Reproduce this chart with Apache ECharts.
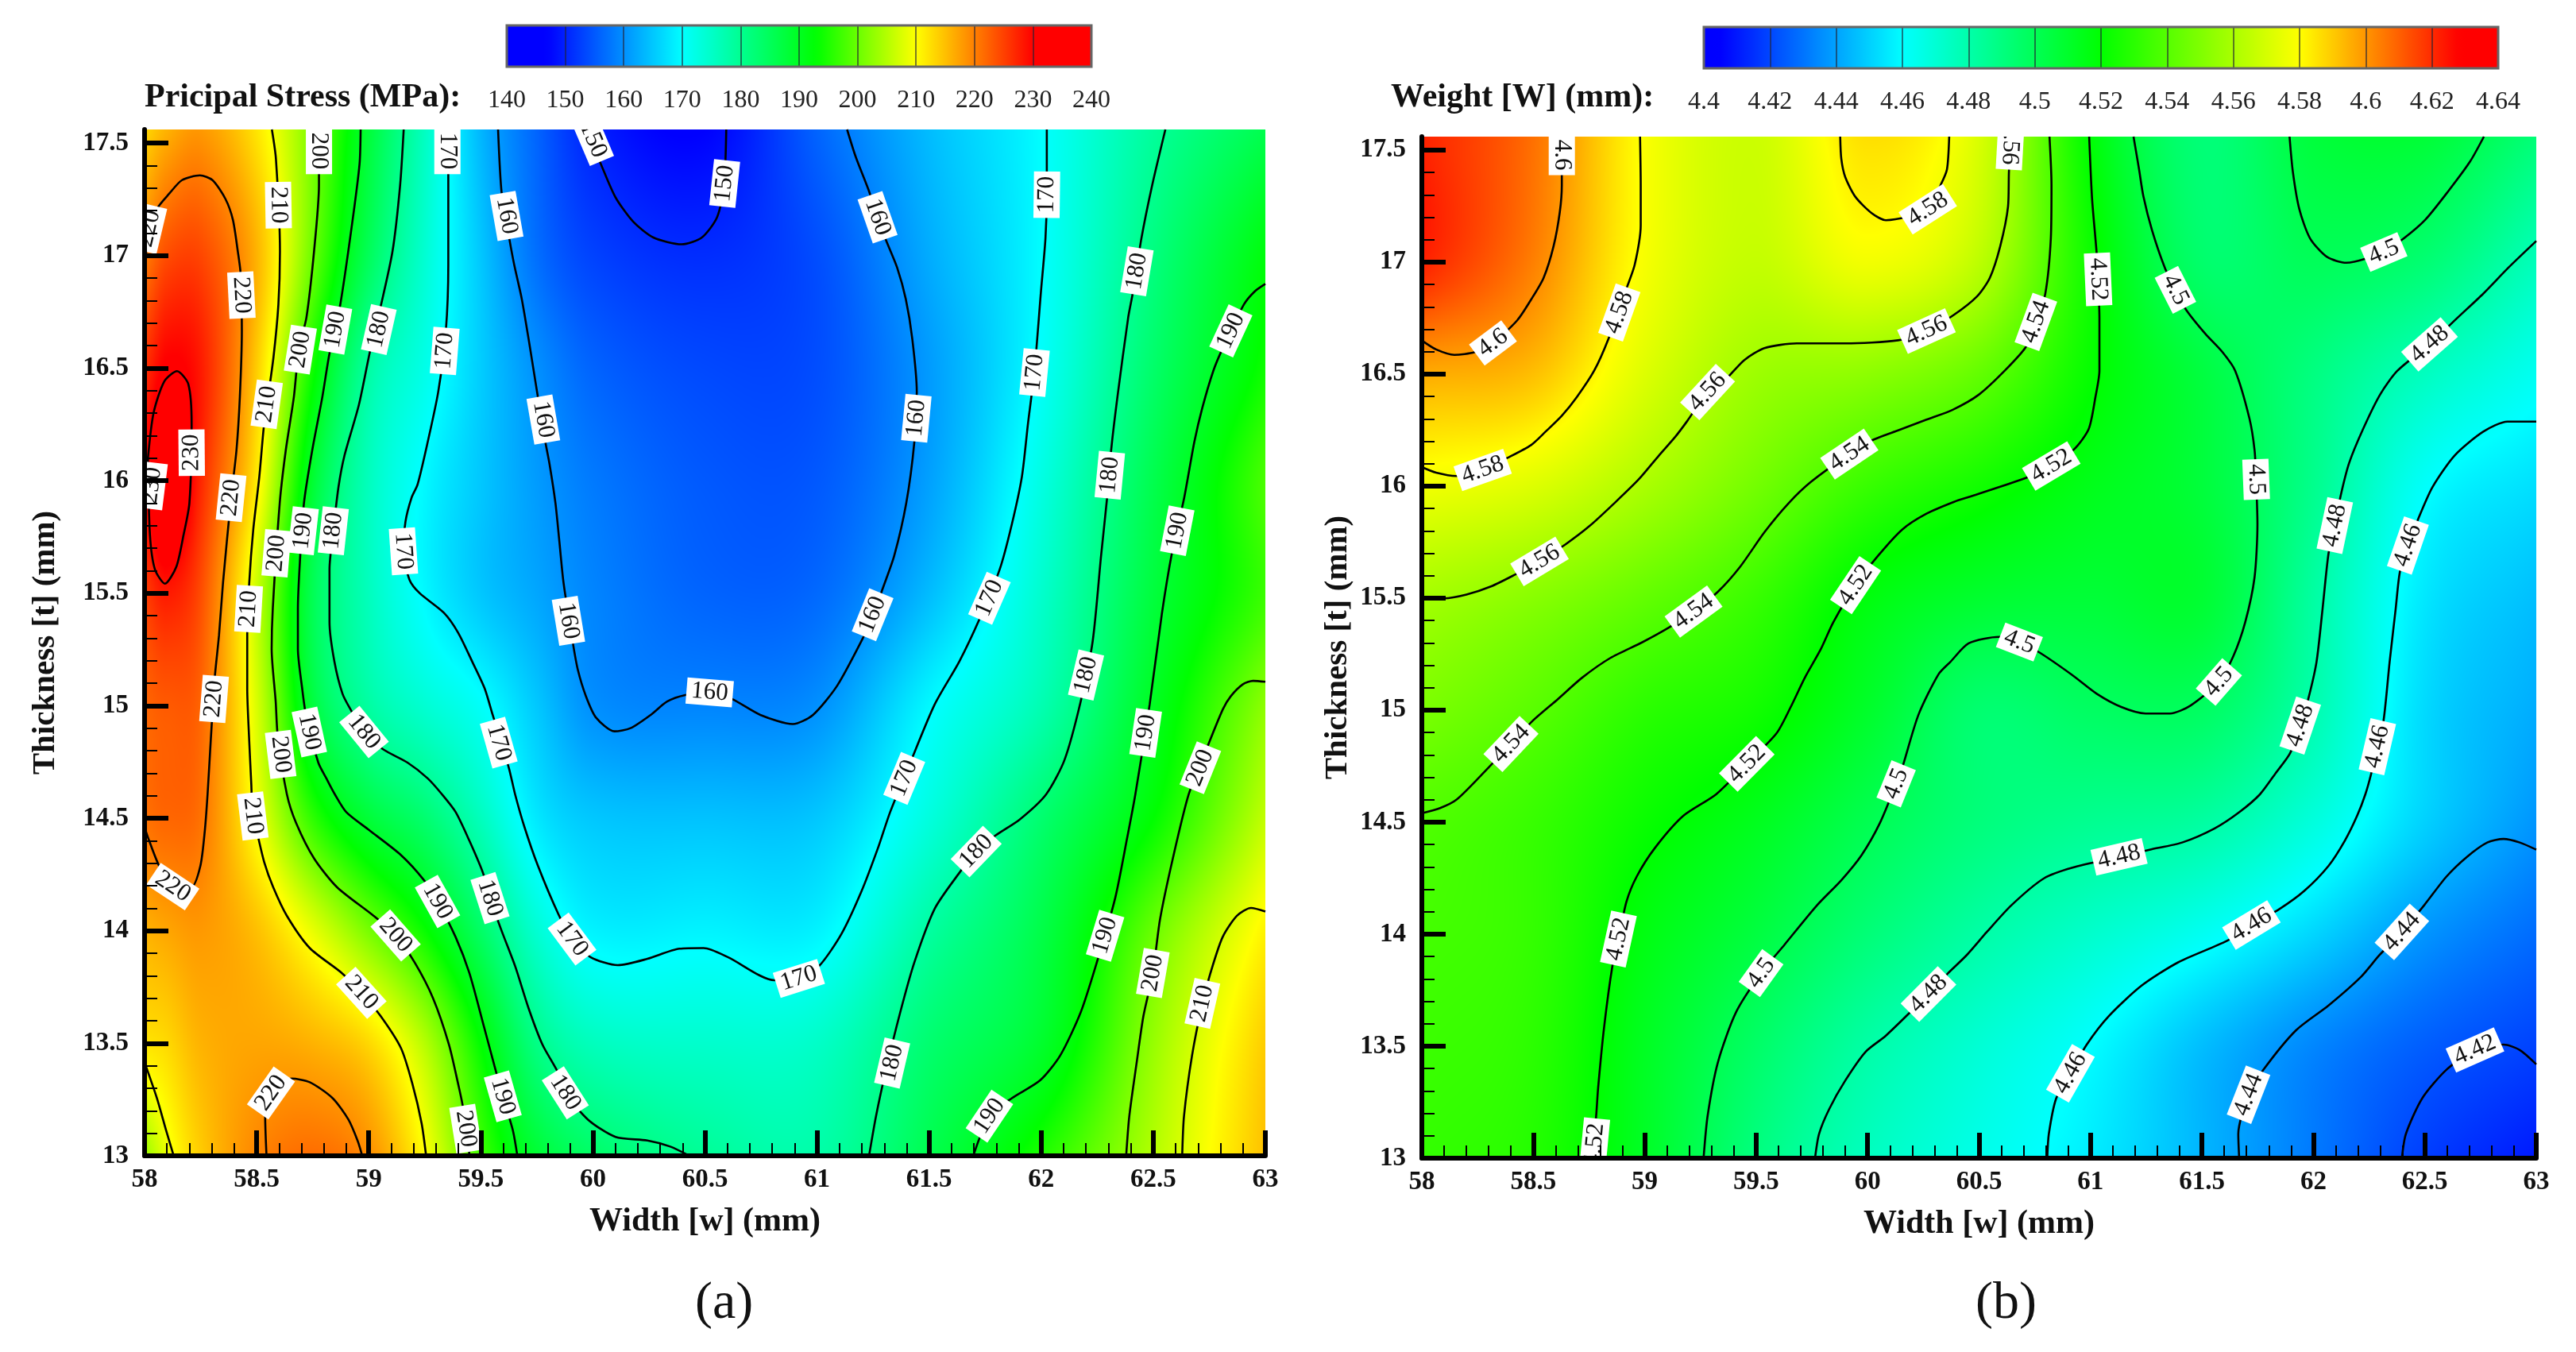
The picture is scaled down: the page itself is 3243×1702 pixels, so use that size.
<!DOCTYPE html>
<html><head><meta charset="utf-8">
<script src="https://cdn.jsdelivr.net/npm/echarts@6/dist/echarts.min.js"></script>
<style>html,body{margin:0;padding:0;background:#fff}#c{width:3243px;height:1702px}</style></head>
<body><div id="c"></div>
<script>
// ---------- values ----------
const widthNodesA = [58,58.1,58.25,58.5,58.75,59,59.25,59.5,59.75,60,60.5,61,61.5,62,62.5,63];
const thicknessNodes = [13,13.5,14,14.5,15,15.5,16,16.5,17,17.56];
const stressRows = [
 [203,208.5,214,219.5,221.5,219,210,197.5,188.5,184,179.5,178,186,195,205,215],
 [212,213,216,217,216,213,205,193,181,176,174.5,175,183,189,203,214],
 [216,217,218,215,208.5,201,193.5,184,174,169,169,169,178.5,186.5,200,211],
 [221,222,221,209.5,196,188,183,176,168,165,164.5,165,173,183,193,206],
 [222,223,222,207.5,187.5,178.5,174,170.5,165,160,159,160,169.5,177,190,202.5],
 [225,228,224,206.5,185.5,176,169.5,165,162,159,156,156.5,164,174.5,187.5,197],
 [229,236,227,211.5,188.5,176,169.5,165,161,158,155,155,161.5,172.5,186,198],
 [226,230.5,228,214,194,178.5,172,165.5,160,156,153.5,154,161,170.5,183.5,194],
 [220,224,224.5,216,200,185,174,165,157,153,151,154,162.5,170,181.5,192],
 [213,216,218,212,201,188,175.5,163.5,156,150,147,156,164,170,179,186]
];
const widthNodesB = [58,58.5,59,59.5,60,60.5,61,61.5,62,62.5,63];
const weightRows = [
 [4.532,4.528,4.511,4.49,4.475,4.465,4.456,4.444,4.431,4.418,4.41],
 [4.534,4.53,4.512,4.496,4.481,4.47,4.46,4.446,4.434,4.425,4.419],
 [4.536,4.532,4.516,4.505,4.492,4.481,4.472,4.463,4.451,4.437,4.428],
 [4.539,4.533,4.522,4.513,4.501,4.491,4.486,4.482,4.468,4.45,4.437],
 [4.549,4.541,4.53,4.524,4.51,4.494,4.497,4.497,4.479,4.452,4.442],
 [4.559,4.552,4.543,4.533,4.517,4.509,4.507,4.508,4.482,4.455,4.446],
 [4.577,4.572,4.56,4.547,4.533,4.524,4.514,4.506,4.487,4.461,4.453],
 [4.596,4.592,4.572,4.557,4.553,4.543,4.521,4.505,4.49,4.475,4.463],
 [4.622,4.604,4.578,4.566,4.577,4.564,4.523,4.495,4.499,4.493,4.476],
 [4.622,4.607,4.579,4.568,4.586,4.571,4.519,4.492,4.506,4.507,4.492]
];
const stressContours = [
 [150,[[59.97,17.56],[60.034,17.41],[60.10,17.26],[60.18,17.15],[60.27,17.08],[60.396,17.05],[60.486,17.08],[60.554,17.17],[60.585,17.31],[60.595,17.56]]],
 [160,[[59.577,17.56],[59.593,17.277],[59.627,17.076],[59.649,16.959],[59.683,16.806],[59.717,16.606],[59.751,16.394],[59.788,16.171],[59.806,16.077],[59.833,15.9],[59.851,15.724],[59.869,15.547],[59.911,15.277],[59.933,15.159],[59.969,15.042],[60.014,14.947],[60.096,14.886],[60.168,14.9],[60.258,14.959],[60.331,15.018],[60.412,15.047],[60.521,15.059],[60.62,15.03],[60.747,14.959],[60.892,14.918],[60.982,14.959],[61.09,15.089],[61.199,15.289],[61.254,15.406],[61.29,15.512],[61.344,15.665],[61.398,15.9],[61.434,16.171],[61.445,16.394],[61.425,16.629],[61.396,16.806],[61.357,16.947],[61.309,17.065],[61.27,17.17],[61.231,17.288],[61.172,17.44],[61.134,17.56]]],
 [170,[[59.355,17.56],[59.355,17.312],[59.355,16.959],[59.344,16.665],[59.31,16.394],[59.263,16.171],[59.218,15.983],[59.191,15.924],[59.164,15.818],[59.155,15.686],[59.182,15.559],[59.227,15.5],[59.336,15.412],[59.399,15.324],[59.462,15.195],[59.517,15.077],[59.553,14.959],[59.625,14.724],[59.653,14.606],[59.694,14.463],[59.755,14.288],[59.846,14.074],[59.907,13.963],[59.989,13.883],[60.111,13.847],[60.243,13.875],[60.386,13.92],[60.494,13.923],[60.602,13.883],[60.81,13.78],[60.919,13.788],[61.009,13.843],[61.109,13.986],[61.199,14.177],[61.272,14.368],[61.326,14.527],[61.416,14.747],[61.525,15.006],[61.634,15.195],[61.724,15.383],[61.815,15.606],[61.869,15.806],[61.914,16.018],[61.941,16.253],[61.97,16.488],[61.999,16.841],[62.019,17.076],[62.025,17.276],[62.025,17.56]]],
 [180,[[59.156,17.56],[59.14,17.312],[59.106,17.018],[59.05,16.759],[59.005,16.571],[58.956,16.336],[58.892,16.112],[58.865,15.971],[58.842,15.777],[58.825,15.606],[58.825,15.371],[58.847,15.195],[58.883,15.053],[58.919,14.983],[58.979,14.883],[59.064,14.806],[59.173,14.747],[59.263,14.677],[59.327,14.606],[59.388,14.527],[59.449,14.4],[59.51,14.256],[59.541,14.145],[59.592,14.002],[59.653,13.843],[59.714,13.653],[59.775,13.494],[59.846,13.367],[59.877,13.28],[59.979,13.16],[60.101,13.084],[60.243,13.068],[60.345,13.041],[60.43,13]]],
 [180,[[61.232,13],[61.263,13.176],[61.308,13.383],[61.371,13.637],[61.434,13.859],[61.525,14.098],[61.634,14.256],[61.71,14.352],[61.796,14.423],[61.905,14.495],[62.022,14.606],[62.104,14.759],[62.176,15.018],[62.23,15.289],[62.267,15.665],[62.294,15.924],[62.312,16.135],[62.34,16.371],[62.388,16.724],[62.408,16.83],[62.447,17.076],[62.495,17.312],[62.554,17.56]]],
 [190,[[58.964,17.56],[58.959,17.406],[58.925,17.135],[58.873,16.782],[58.824,16.559],[58.793,16.371],[58.748,16.135],[58.711,15.9],[58.693,15.641],[58.684,15.43],[58.684,15.253],[58.703,15.077],[58.72,14.959],[58.775,14.747],[58.811,14.677],[58.849,14.606],[58.9,14.527],[59.002,14.447],[59.144,14.336],[59.246,14.225],[59.307,14.13],[59.388,13.971],[59.449,13.812],[59.51,13.589],[59.561,13.399],[59.598,13.264],[59.643,13.113],[59.663,13]]],
 [190,[[61.697,13],[61.769,13.176],[61.869,13.256],[61.995,13.335],[62.085,13.446],[62.176,13.637],[62.248,13.859],[62.33,14.145],[62.384,14.415],[62.42,14.606],[62.484,15.006],[62.538,15.406],[62.583,15.677],[62.638,15.924],[62.683,16.171],[62.719,16.324],[62.768,16.488],[62.807,16.582],[62.904,16.782],[62.953,16.841],[63,16.874]]],
 [200,[[58.778,17.56],[58.778,17.312],[58.756,17.018],[58.722,16.724],[58.688,16.582],[58.666,16.371],[58.63,16.135],[58.603,15.9],[58.572,15.43],[58.567,15.253],[58.585,15.018],[58.594,14.865],[58.635,14.606],[58.676,14.479],[58.757,14.32],[58.859,14.193],[59.022,14.066],[59.12,13.979],[59.205,13.859],[59.287,13.7],[59.358,13.494],[59.399,13.319],[59.419,13.224],[59.45,13]]],
 [200,[[62.379,13],[62.393,13.176],[62.426,13.415],[62.456,13.621],[62.498,13.812],[62.53,14.05],[62.587,14.32],[62.658,14.606],[62.737,14.806],[62.81,14.983],[62.846,15.042],[62.9,15.095],[62.945,15.11],[63,15.106]]],
 [210,[[58.568,17.56],[58.586,17.43],[58.604,17.018],[58.597,16.782],[58.575,16.547],[58.545,16.33],[58.531,16.229],[58.512,16.018],[58.485,15.783],[58.467,15.547],[58.458,15.312],[58.458,15.077],[58.467,14.841],[58.476,14.653],[58.483,14.51],[58.503,14.431],[58.534,14.304],[58.574,14.193],[58.635,14.066],[58.737,13.923],[58.88,13.812],[58.967,13.724],[59.053,13.621],[59.144,13.478],[59.195,13.319],[59.236,13.144],[59.256,13]]],
 [210,[[62.629,13],[62.637,13.176],[62.673,13.446],[62.719,13.677],[62.755,13.812],[62.809,13.971],[62.873,14.066],[62.936,14.101],[63,14.085]]],
 [210,[[58,13.415],[58.055,13.256],[58.096,13.113],[58.13,13]]],
 [220,[[58,16.98],[58.032,17.123],[58.054,17.206],[58.111,17.276],[58.167,17.335],[58.247,17.356],[58.303,17.335],[58.36,17.253],[58.394,17.159],[58.416,17.018],[58.428,16.924],[58.434,16.665],[58.425,16.371],[58.41,16.135],[58.386,15.924],[58.35,15.547],[58.332,15.312],[58.313,15.124],[58.295,14.841],[58.281,14.606],[58.269,14.447],[58.249,14.288],[58.208,14.193],[58.126,14.196],[58.065,14.288],[58.015,14.415],[58,14.46]]],
 [220,[[58.544,13],[58.538,13.176],[58.564,13.279],[58.656,13.343],[58.737,13.327],[58.839,13.256],[58.91,13.16],[58.951,13.065],[58.971,13]]],
 [230,[[58.015,16.1],[58.04,16.3],[58.088,16.441],[58.145,16.486],[58.195,16.429],[58.21,16.25],[58.2,15.9],[58.174,15.759],[58.142,15.618],[58.091,15.542],[58.046,15.606],[58.024,15.759],[58.015,16.1]]]
];
const stressLabels = [
 [60,17.515,150,'d'],[60.588,17.32,150,'u'],
 [59.615,17.176,160,'d'],[59.779,16.271,160,'d'],[59.891,15.377,160,'d'],[60.521,15.059,160,'d'],[61.248,15.404,160,'u'],[61.443,16.277,160,'u'],[61.27,17.17,160,'d'],
 [59.351,17.465,170,'d'],[59.339,16.576,170,'u'],[59.155,15.686,170,'d'],[59.58,14.836,170,'d'],[59.907,13.963,170,'d'],[60.919,13.788,170,'u'],[61.769,15.477,170,'u'],[61.389,14.677,170,'u'],[62.025,17.27,170,'u'],[61.97,16.48,170,'u'],
 [59.045,16.671,180,'u'],[58.842,15.777,180,'u'],[58.979,14.883,180,'d'],[59.541,14.145,180,'d'],[59.877,13.28,180,'d'],[61.335,13.412,180,'u'],[61.71,14.352,180,'u'],[62.2,15.136,180,'u'],[62.306,16.024,180,'u'],[62.427,16.93,180,'u'],
 [58.851,16.671,190,'u'],[58.708,15.777,190,'u'],[58.735,14.883,190,'d'],[59.307,14.13,190,'d'],[59.598,13.264,190,'d'],[61.769,13.176,190,'u'],[62.285,13.978,190,'u'],[62.466,14.879,190,'u'],[62.607,15.777,190,'u'],[62.846,16.665,190,'u'],
 [58.778,17.465,200,'d'],[58.695,16.582,200,'u'],[58.588,15.677,200,'u'],[58.607,14.783,200,'d'],[59.12,13.979,200,'d'],[59.433,13.12,200,'d'],[62.498,13.812,200,'u'],[62.71,14.724,200,'u'],
 [58.597,17.224,210,'d'],[58.545,16.339,210,'u'],[58.464,15.43,210,'u'],[58.483,14.51,210,'d'],[58.967,13.724,210,'d'],[62.719,13.677,210,'u'],
 [58.02,17.12,220,'u'],[58.432,16.824,220,'d'],[58.386,15.924,220,'u'],[58.31,15.03,220,'u'],[58.126,14.196,220,'d'],[58.564,13.279,220,'u'],
 [58.21,16.124,230,'u'],[58.033,15.977,230,'u']
];
const weightContours = [
 [4.6,[[58.628,17.56],[58.628,17.343],[58.619,17.224],[58.591,17.071],[58.546,16.929],[58.491,16.834],[58.428,16.74],[58.319,16.639],[58.237,16.598],[58.146,16.586],[58.064,16.61],[58,16.65]]],
 [4.58,[[58.979,17.56],[58.982,17.343],[58.982,17.165],[58.955,16.988],[58.918,16.882],[58.837,16.657],[58.773,16.515],[58.695,16.397],[58.628,16.314],[58.555,16.243],[58.491,16.184],[58.382,16.125],[58.273,16.072],[58.155,16.045],[58.064,16.06],[58,16.085]]],
 [4.58,[[59.877,17.56],[59.882,17.46],[59.9,17.378],[59.946,17.29],[60.019,17.218],[60.082,17.187],[60.27,17.236],[60.327,17.343],[60.356,17.414],[60.366,17.56]]],
 [4.56,[[58,15.5],[58.1,15.499],[58.2,15.516],[58.31,15.552],[58.418,15.605],[58.528,15.664],[58.646,15.741],[58.755,15.824],[58.864,15.924],[58.973,16.03],[59.064,16.137],[59.137,16.22],[59.191,16.291],[59.282,16.42],[59.355,16.468],[59.446,16.562],[59.537,16.616],[59.682,16.637],[59.9,16.637],[60.137,16.651],[60.264,16.692],[60.385,16.763],[60.49,16.846],[60.548,16.929],[60.595,17.071],[60.63,17.248],[60.634,17.402],[60.643,17.56]]],
 [4.54,[[58,14.54],[58.082,14.563],[58.155,14.6],[58.264,14.707],[58.4,14.849],[58.5,14.955],[58.61,15.049],[58.718,15.144],[58.846,15.233],[58.991,15.304],[59.109,15.369],[59.219,15.44],[59.328,15.528],[59.428,15.64],[59.537,15.794],[59.646,15.924],[59.746,16.019],[59.918,16.143],[60.028,16.208],[60.137,16.249],[60.264,16.297],[60.38,16.34],[60.5,16.409],[60.615,16.515],[60.71,16.621],[60.755,16.733],[60.797,16.858],[60.822,17.106],[60.825,17.343],[60.816,17.56]]],
 [4.52,[[58.764,13],[58.782,13.188],[58.791,13.315],[58.818,13.587],[58.855,13.858],[58.882,13.978],[58.918,14.145],[58.964,14.257],[59.046,14.385],[59.173,14.528],[59.32,14.624],[59.458,14.76],[59.591,14.896],[59.655,15.014],[59.718,15.144],[59.791,15.274],[59.846,15.392],[59.946,15.558],[60.046,15.688],[60.155,15.806],[60.264,15.877],[60.388,15.93],[60.462,15.954],[60.709,16.036],[60.824,16.09],[60.928,16.166],[60.992,16.255],[61.022,16.397],[61.04,16.515],[61.04,16.751],[61.034,16.923],[61.027,17.047],[61.007,17.283],[60.994,17.56]]],
 [4.5,[[59.264,13],[59.282,13.188],[59.328,13.427],[59.409,13.65],[59.522,13.826],[59.628,13.954],[59.773,14.129],[59.882,14.241],[59.973,14.353],[60.055,14.496],[60.128,14.671],[60.155,14.742],[60.228,14.979],[60.318,15.16],[60.371,15.215],[60.453,15.298],[60.59,15.327],[60.681,15.304],[60.773,15.256],[60.919,15.156],[61.028,15.073],[61.138,15.014],[61.247,14.985],[61.357,14.985],[61.448,15.02],[61.576,15.126],[61.64,15.239],[61.694,15.392],[61.736,15.593],[61.749,15.83],[61.743,16.03],[61.736,16.161],[61.713,16.302],[61.649,16.515],[61.592,16.598],[61.515,16.68],[61.429,16.787],[61.381,16.876],[61.333,16.976],[61.276,17.142],[61.237,17.295],[61.218,17.413],[61.193,17.56]]],
 [4.5,[[61.893,17.56],[61.908,17.402],[61.937,17.236],[61.985,17.106],[62.061,17.023],[62.148,16.997],[62.316,17.045],[62.406,17.106],[62.502,17.189],[62.607,17.319],[62.703,17.449],[62.765,17.56]]],
 [4.48,[[59.764,13],[59.782,13.108],[59.828,13.22],[59.9,13.347],[59.991,13.475],[60.082,13.547],[60.273,13.733],[60.36,13.825],[60.444,13.906],[60.535,14.01],[60.645,14.129],[60.791,14.249],[60.919,14.297],[61.128,14.345],[61.265,14.377],[61.411,14.409],[61.557,14.472],[61.667,14.544],[61.76,14.624],[61.831,14.719],[61.895,14.807],[61.941,14.931],[61.977,15.05],[62.014,15.215],[62.041,15.451],[62.068,15.7],[62.096,15.824],[62.123,15.96],[62.16,16.102],[62.223,16.255],[62.3,16.41],[62.377,16.515],[62.521,16.633],[62.646,16.751],[62.761,16.858],[62.876,16.976],[63,17.094]]],
 [4.46,[[60.806,13],[60.813,13.108],[60.846,13.267],[60.91,13.379],[60.983,13.507],[61.083,13.635],[61.229,13.77],[61.393,13.874],[61.612,13.97],[61.722,14.041],[61.849,14.113],[61.959,14.193],[62.068,14.305],[62.141,14.417],[62.196,14.528],[62.233,14.624],[62.26,14.719],[62.287,14.837],[62.315,14.955],[62.342,15.215],[62.369,15.451],[62.388,15.617],[62.424,15.735],[62.47,15.853],[62.534,15.995],[62.634,16.137],[62.762,16.243],[62.871,16.288],[63,16.288]]],
 [4.44,[[61.667,13],[61.663,13.108],[61.709,13.283],[61.776,13.395],[61.922,13.571],[62.068,13.682],[62.214,13.81],[62.296,13.906],[62.397,14.01],[62.497,14.129],[62.597,14.257],[62.689,14.345],[62.78,14.409],[62.853,14.425],[62.926,14.409],[63,14.377]]],
 [4.42,[[62.397,13],[62.415,13.108],[62.488,13.267],[62.597,13.395],[62.725,13.483],[62.853,13.507],[62.926,13.483],[63,13.419]]]
];
const weightLabels = [
 [58.628,17.478,4.6,'d'],[58.319,16.639,4.6,'u'],
 [58.886,16.775,4.58,'u'],[58.273,16.072,4.58,'u'],[60.27,17.236,4.58,'u'],
 [58.528,15.664,4.56,'u'],[59.282,16.42,4.56,'u'],[60.264,16.692,4.56,'u'],[60.64,17.53,4.56,'d'],
 [58.4,14.849,4.54,'u'],[59.219,15.44,4.54,'u'],[59.918,16.143,4.54,'u'],[60.755,16.733,4.54,'u'],
 [58.882,13.978,4.52,'u'],[58.775,13.06,4.52,'u'],[59.458,14.76,4.52,'u'],[59.946,15.558,4.52,'u'],[60.824,16.09,4.52,'u'],[61.034,16.923,4.52,'d'],
 [59.522,13.826,4.5,'u'],[60.128,14.671,4.5,'u'],[60.681,15.304,4.5,'d'],[61.576,15.126,4.5,'u'],[61.743,16.03,4.5,'d'],[61.381,16.876,4.5,'d'],[62.316,17.045,4.5,'u'],
 [60.273,13.733,4.48,'u'],[61.128,14.345,4.48,'u'],[61.941,14.931,4.48,'u'],[62.096,15.824,4.48,'u'],[62.521,16.633,4.48,'u'],
 [60.91,13.379,4.46,'u'],[61.722,14.041,4.46,'u'],[62.287,14.837,4.46,'u'],[62.424,15.735,4.46,'u'],
 [61.709,13.283,4.44,'u'],[62.397,14.01,4.44,'u'],
 [62.725,13.483,4.42,'u']
];
const stressBarTicks = [140,150,160,170,180,190,200,210,220,230,240];
const weightBarTicks = [4.4,4.42,4.44,4.46,4.48,4.5,4.52,4.54,4.56,4.58,4.6,4.62,4.64];
const thicknessTicks = [13,13.5,14,14.5,15,15.5,16,16.5,17,17.5];
// ---------- colour scales (fraction of the bar range, rgb) ----------
const stressStops = [[0,0,0,255],[0.07,0,0,255],[0.3,0,255,255],[0.53,0,255,0],[0.7,255,255,0],[0.9,255,0,0],[1,255,0,0]];
const weightStops = [[0,0,0,255],[0.02,0,0,255],[0.25,0,255,255],[0.5,0,255,0],[0.75,255,255,0],[0.95,255,0,0],[1,255,0,0]];

function colourAt(stops,f){
  f=Math.max(0,Math.min(1,f));
  for(let i=1;i<stops.length;i++){ if(f<=stops[i][0]){
    const a=stops[i-1],b=stops[i],k=(f-a[0])/(b[0]-a[0]||1);
    return [a[1]+(b[1]-a[1])*k,a[2]+(b[2]-a[2])*k,a[3]+(b[3]-a[3])*k];
  }}
  const l=stops[stops.length-1];return [l[1],l[2],l[3]];
}
function slope(xs,vs,i){
  const a=Math.max(0,i-1),b=Math.min(xs.length-1,i+1);
  return (vs(b)-vs(a))/(xs[b]-xs[a]);
}
function hermite(xs,vs,i,x){
  const h=xs[i+1]-xs[i],s=(x-xs[i])/h,s2=s*s,s3=s2*s;
  return (2*s3-3*s2+1)*vs(i)+(s3-2*s2+s)*h*slope(xs,vs,i)+(-2*s3+3*s2)*vs(i+1)+(s3-s2)*h*slope(xs,vs,i+1);
}
// Shades one cell of the measured grid, pixel by pixel, as the contour plot does
function shadeCell(cols,rows,vals,stops,lo,hi,c,r,W,H){
  const cv=document.createElement('canvas');cv.width=W;cv.height=H;
  const g=cv.getContext('2d'),img=g.createImageData(W,H),d=img.data;
  const x0=cols[c],x1=cols[c+1],y0=rows[r],y1=rows[r+1];
  for(let px=0;px<W;px++){
    const w=x0+(x1-x0)*(px+0.5)/W;
    const colVals=rows.map((_,j)=>hermite(cols,k=>vals[j][k],c,w));
    for(let py=0;py<H;py++){
      const t=y1+(y0-y1)*(py+0.5)/H;
      const v=hermite(rows,j=>colVals[j],r,t);
      const col=colourAt(stops,(v-lo)/(hi-lo));
      const o=(py*W+px)*4;d[o]=col[0];d[o+1]=col[1];d[o+2]=col[2];d[o+3]=255;
    }
  }
  g.putImageData(img,0,0);return cv;
}
const FONT='"Liberation Serif","Times New Roman",serif';
function fieldSeries(idx,cols,rows,vals,stops,lo,hi){
  const data=[];rows.forEach((t,j)=>cols.forEach((w,i)=>data.push([w,t,vals[j][i]])));
  const cache={};
  return {type:'custom',xAxisIndex:idx,yAxisIndex:idx,data,z:1,silent:true,animation:false,clip:true,
    encode:{x:0,y:1},
    renderItem(p,api){
      const i=p.dataIndex%cols.length,j=Math.floor(p.dataIndex/cols.length);
      if(i>=cols.length-1||j>=rows.length-1)return null;
      const a=api.coord([cols[i],rows[j]]),b=api.coord([cols[i+1],rows[j+1]]);
      const x=Math.round(a[0]),X=Math.round(b[0]),y=Math.round(b[1]),Y=Math.round(a[1]);
      const key=i+'_'+j+'_'+(X-x)+'_'+(Y-y);
      if(!cache[key])cache[key]=shadeCell(cols,rows,vals,stops,lo,hi,i,j,X-x,Y-y);
      return {type:'image',style:{image:cache[key],x,y,width:X-x,height:Y-y}};
    }};
}
function contourSeries(idx,list){
  return list.map(c=>({type:'line',name:String(c[0]),xAxisIndex:idx,yAxisIndex:idx,data:c[1],showSymbol:false,symbol:'none',
    smooth:0.25,clip:true,silent:true,animation:false,z:3,lineStyle:{color:'#000',width:2.6}}));
}
function labelSeries(idx,labels,contours){
  return {type:'custom',xAxisIndex:idx,yAxisIndex:idx,data:labels.map(l=>[l[0],l[1],l[2]]),z:4,silent:true,animation:false,clip:true,
    encode:{x:0,y:1},
    renderItem(p,api){
      const l=labels[p.dataIndex],c=api.coord([l[0],l[1]]);
      let best=1e12,dx=1,dy=0;
      contours.filter(k=>k[0]===l[2]).forEach(k=>{
        const pts=k[1].map(q=>api.coord(q));
        pts.forEach((q,n)=>{
          const e=(q[0]-c[0])**2+(q[1]-c[1])**2;
          if(e<best){best=e;const A=pts[Math.max(0,n-1)],B=pts[Math.min(pts.length-1,n+1)];dx=B[0]-A[0];dy=B[1]-A[1];}
        });
      });
      let rot=Math.atan2(-dy,dx);
      if(l[3]==='u'&&rot<0)rot+=Math.PI;
      if(l[3]==='d'&&rot>0)rot-=Math.PI;
      return {type:'text',x:c[0],y:c[1],rotation:rot,
        style:{text:String(l[2]),font:'31px '+FONT,fill:'#111',align:'center',verticalAlign:'middle',backgroundColor:'#fff',padding:[1,6]}};
    }};
}
function barSeries(idx,ticks,stops){
  const lo=ticks[0],hi=ticks[ticks.length-1],data=[];
  for(let i=0;i<ticks.length-1;i++)data.push([ticks[i],ticks[i+1]]);
  return {type:'custom',xAxisIndex:idx,yAxisIndex:idx,data,z:1,silent:true,animation:false,encode:{x:[0,1]},
    renderItem(p,api){
      const a=api.value(0),b=api.value(1),P=api.coord([a,0]),Q=api.coord([b,1]);
      const cs=[];for(let n=0;n<=8;n++){const f=n/8,c=colourAt(stops,((a+(b-a)*f)-lo)/(hi-lo));
        cs.push({offset:f,color:'rgb('+c.map(Math.round).join(',')+')'});}
      return {type:'rect',shape:{x:P[0],y:Q[1],width:Q[0]-P[0]+0.5,height:P[1]-Q[1]},
        style:{fill:new echarts.graphic.LinearGradient(0,0,1,0,cs)}};
    }};
}
function mainX(idx){return {gridIndex:idx,type:'value',min:58,max:63,interval:0.5,z:6,
  name:'Width [w] (mm)',nameLocation:'middle',nameGap:62,
  nameTextStyle:{fontFamily:FONT,fontWeight:'bold',fontSize:42,color:'#111'},
  axisLine:{show:true,onZero:false,lineStyle:{color:'#000',width:6}},
  axisTick:{show:true,inside:true,length:32,lineStyle:{color:'#000',width:6}},
  minorTick:{show:true,splitNumber:5,length:16,lineStyle:{color:'#000',width:2}},
  splitLine:{show:false},minorSplitLine:{show:false},
  axisLabel:{show:true,margin:14,interval:0,fontFamily:FONT,fontWeight:'bold',fontSize:33,color:'#111',formatter:v=>String(v)}};}
function mainY(idx,gap){return {gridIndex:idx,type:'value',min:13,max:17.56,interval:0.5,z:6,
  name:'Thickness [t] (mm)',nameLocation:'middle',nameRotate:90,nameGap:gap,
  nameTextStyle:{fontFamily:FONT,fontWeight:'bold',fontSize:41,color:'#111'},
  axisLine:{show:true,onZero:false,lineStyle:{color:'#000',width:6}},
  axisTick:{show:true,inside:true,length:30,customValues:thicknessTicks,lineStyle:{color:'#000',width:6}},
  minorTick:{show:true,splitNumber:5,length:16,lineStyle:{color:'#000',width:2}},
  splitLine:{show:false},minorSplitLine:{show:false},
  axisLabel:{show:true,margin:20,customValues:thicknessTicks,fontFamily:FONT,fontWeight:'bold',fontSize:33,color:'#111',formatter:v=>String(v)}};}
function barX(idx,ticks,step){return {gridIndex:idx,type:'value',min:ticks[0],max:ticks[ticks.length-1],interval:step,z:6,
  axisLine:{show:false},axisTick:{show:false},
  splitLine:{show:true,lineStyle:{color:'#223',width:1.6,opacity:0.75}},
  axisLabel:{show:true,margin:27,interval:0,fontFamily:FONT,fontSize:32,color:'#222',formatter:v=>String(+v.toFixed(2))}};}
function barY(idx){return {gridIndex:idx,type:'value',min:0,max:1,show:false};}
function heading(text,left,top,size,weight){return {text,left,top,padding:0,textStyle:{fontFamily:FONT,fontSize:size,fontWeight:weight,color:'#111'}};}

const chart=echarts.init(document.getElementById('c'),null,{renderer:'canvas',width:3243,height:1702});
chart.setOption({
  backgroundColor:'#fff',animation:false,
  title:[
    heading('Pricipal Stress (MPa):',182,102,42,'bold'),
    heading('Weight [W] (mm):',1751,102,42,'bold'),
    heading('(a)',875,1609,66,'normal'),
    heading('(b)',2487,1609,66,'normal')
  ],
  grid:[
    {left:182,top:163,width:1411,height:1292},
    {left:1790,top:172,width:1403,height:1286},
    {left:638,top:32,width:736,height:52,show:true,z:7,backgroundColor:'transparent',borderColor:'#666',borderWidth:3},
    {left:2145,top:34,width:1000,height:52,show:true,z:7,backgroundColor:'transparent',borderColor:'#666',borderWidth:3}
  ],
  xAxis:[mainX(0),mainX(1),barX(2,stressBarTicks,10),barX(3,weightBarTicks,0.02)],
  yAxis:[mainY(0,104),mainY(1,85),barY(2),barY(3)],
  series:[
    fieldSeries(0,widthNodesA,thicknessNodes,stressRows,stressStops,140,240),
    fieldSeries(1,widthNodesB,thicknessNodes,weightRows,weightStops,4.4,4.64),
    ...contourSeries(0,stressContours),
    ...contourSeries(1,weightContours),
    labelSeries(0,stressLabels,stressContours),
    labelSeries(1,weightLabels,weightContours),
    barSeries(2,stressBarTicks,stressStops),
    barSeries(3,weightBarTicks,weightStops)
  ]
});
</script></body></html>
